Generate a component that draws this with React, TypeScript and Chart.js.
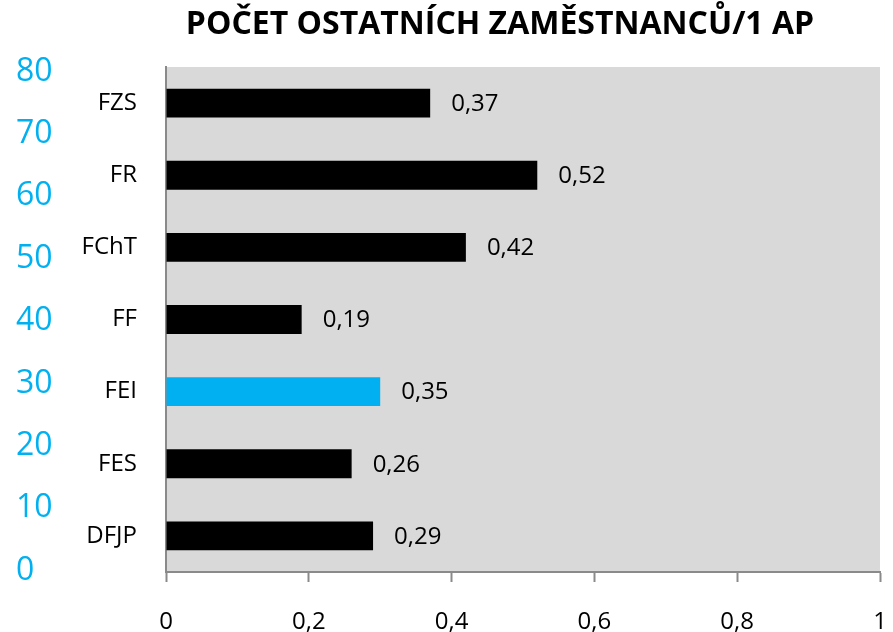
import React, { useEffect, useRef } from 'react';
import { Chart, registerables } from 'chart.js';

Chart.register(...registerables);

const chartTitle = 'POČET OSTATNÍCH ZAMĚSTNANCŮ/1 AP';
const categories = ['FZS', 'FR', 'FChT', 'FF', 'FEI', 'FES', 'DFJP'];
const barValues = [0.37, 0.52, 0.42, 0.19, 0.30, 0.26, 0.29];
const valueLabels = ['0,37', '0,52', '0,42', '0,19', '0,35', '0,26', '0,29'];
const barColors = ['#000000', '#000000', '#000000', '#000000', '#00B0F0', '#000000', '#000000'];
const xTickValues = [0, 0.2, 0.4, 0.6, 0.8, 1];
const leftTickValues = [0, 10, 20, 30, 40, 50, 60, 70, 80];

const FONT = '"Open Sans", "DejaVu Sans", sans-serif';
const AXIS_GRAY = '#8a8a8a';
const BLUE = '#00B0F0';

export default function App() {
  const ref = useRef<HTMLCanvasElement | null>(null);

  useEffect(() => {
    document.body.style.margin = '0';
    const canvas = ref.current;
    if (!canvas) return;

    const plotBg = {
      id: 'plotBg',
      beforeDraw(chart: any) {
        const { ctx, chartArea } = chart;
        ctx.save();
        ctx.fillStyle = '#D9D9D9';
        ctx.fillRect(chartArea.left, chartArea.top, chartArea.right - chartArea.left, chartArea.bottom - chartArea.top);
        ctx.restore();
      },
    };

    const valueLabelPlugin = {
      id: 'valueLabels',
      afterDatasetsDraw(chart: any) {
        const { ctx } = chart;
        const meta = chart.getDatasetMeta(0);
        ctx.save();
        ctx.font = `24px ${FONT}`;
        ctx.fillStyle = '#000000';
        ctx.textAlign = 'left';
        ctx.textBaseline = 'middle';
        meta.data.forEach((el: any, i: number) => {
          ctx.fillText(valueLabels[i], el.x + 21, el.y + 1);
        });
        ctx.restore();
      },
    };

    const titlePlugin = {
      id: 'customTitle',
      afterDraw(chart: any) {
        const { ctx } = chart;
        ctx.save();
        ctx.font = `bold 32px ${FONT}`;
        ctx.fillStyle = '#000000';
        ctx.textAlign = 'center';
        ctx.textBaseline = 'alphabetic';
        ctx.fillText(chartTitle, 500, 34);
        ctx.restore();
      },
    };

    const chart = new Chart(canvas, {
      type: 'bar',
      data: {
        labels: categories,
        datasets: [
          {
            data: barValues,
            backgroundColor: barColors,
            borderWidth: 0,
            barPercentage: 0.4,
            categoryPercentage: 1,
          },
        ],
      },
      options: {
        indexAxis: 'y',
        responsive: false,
        animation: false,
        layout: { padding: { left: 16, right: 13, top: 67, bottom: 0 } },
        plugins: {
          legend: { display: false },
          title: { display: false },
          tooltip: { enabled: false },
        },
        scales: {
          x: {
            type: 'linear',
            position: 'bottom',
            min: 0,
            max: 1,
            afterBuildTicks: (s: any) => {
              s.ticks = xTickValues.map((v) => ({ value: v }));
            },
            afterFit: (s: any) => {
              s.height = 60;
              s.paddingRight = 7;
              s.paddingLeft = 0;
            },
            grid: {
              display: true,
              drawOnChartArea: false,
              drawTicks: true,
              tickLength: 10,
              tickWidth: 2,
              color: AXIS_GRAY,
            },
            border: { display: true, color: AXIS_GRAY, width: 2 },
            ticks: {
              padding: 26,
              color: '#000000',
              font: { family: FONT, size: 24 },
              callback: (v: any) => String(Number(v)).replace('.', ','),
            },
          },
          y: {
            type: 'category',
            position: 'left',
            weight: 0,
            afterFit: (s: any) => {
              s.width = 100;
            },
            grid: { display: false },
            border: { display: true, color: AXIS_GRAY, width: 2 },
            ticks: {
              padding: 21,
              color: '#000000',
              font: { family: FONT, size: 24 },
            },
          },
          yBlue: {
            type: 'linear',
            axis: 'y',
            position: 'left',
            weight: 1,
            offset: false,
            min: -0.25,
            max: 80.75,
            afterBuildTicks: (s: any) => {
              s.ticks = leftTickValues.map((v) => ({ value: v }));
            },
            afterFit: (s: any) => {
              s.width = 50;
            },
            grid: { display: false, offset: false },
            border: { display: false },
            ticks: {
              crossAlign: 'far',
              padding: 0,
              color: BLUE,
              font: { family: FONT, size: 32 },
            },
          },
        },
      } as any,
      plugins: [plotBg, valueLabelPlugin, titlePlugin],
    });

    return () => chart.destroy();
  }, []);

  return (
    <div style={{ width: 893, height: 632 }}>
      <canvas ref={ref} width={893} height={632} style={{ display: 'block' }} />
    </div>
  );
}
